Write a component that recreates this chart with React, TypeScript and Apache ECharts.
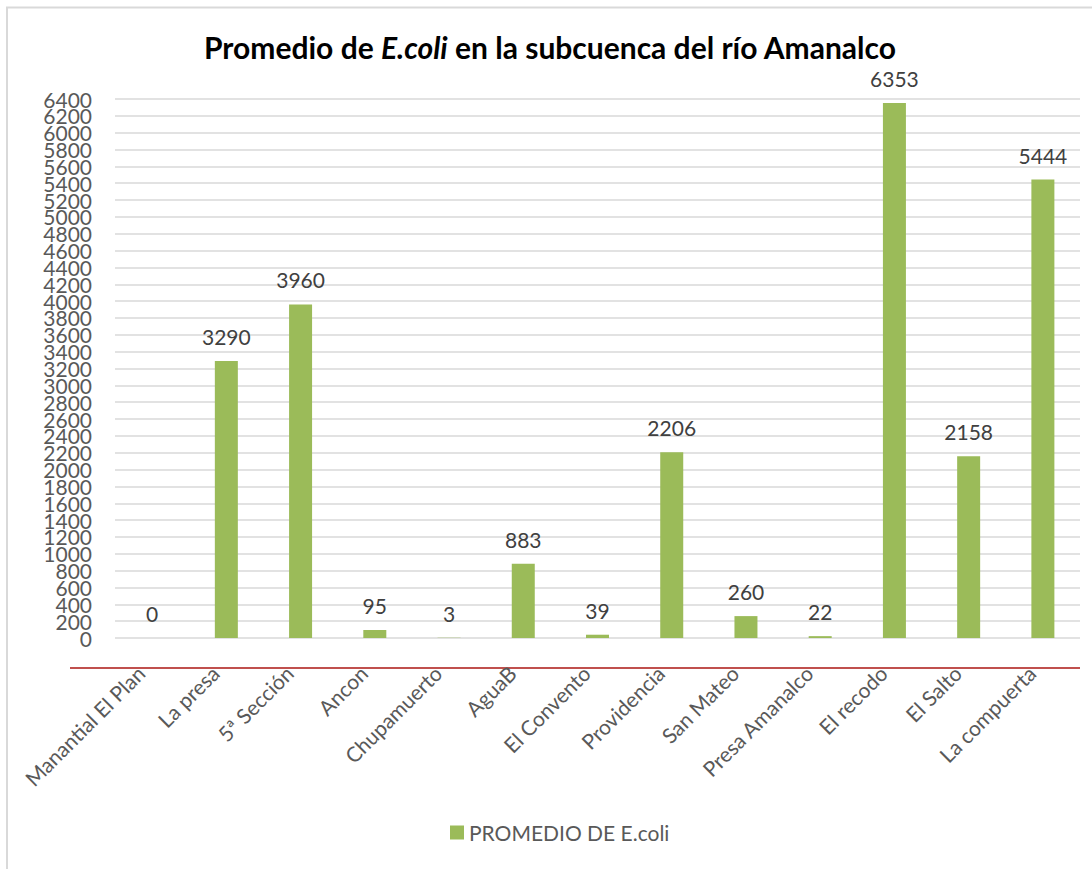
import React, { useEffect, useRef } from "react";
import * as echarts from "echarts";

const categories = [
  "Manantial El Plan",
  "La presa",
  "5ª Sección",
  "Ancon",
  "Chupamuerto",
  "AguaB",
  "El Convento",
  "Providencia",
  "San Mateo",
  "Presa Amanalco",
  "El recodo",
  "El Salto",
  "La compuerta",
];
const values = [0, 3290, 3960, 95, 3, 883, 39, 2206, 260, 22, 6353, 2158, 5444];
const seriesName = "PROMEDIO DE E.coli";
const yMin = 0;
const yMax = 6400;
const yInterval = 200;

const FONT = "Lato, 'Open Sans', sans-serif";

const yLabelStyle = {
  margin: 23,
  fontFamily: FONT,
  fontSize: 21,
  lineHeight: 14,
  color: "#595959",
  hideOverlap: false,
};

export default function App() {
  const ref = useRef<HTMLDivElement>(null);
  useEffect(() => {
    if (!ref.current) return;
    const chart = echarts.init(ref.current, null, { renderer: "svg" });
    chart.setOption({
      animation: false,
      backgroundColor: "#ffffff",
      title: {
        left: 204,
        top: 32,
        padding: 0,
        text: "{b|Promedio de }{i|E.coli}{b| en la subcuenca del río Amanalco}",
        textStyle: {
          rich: {
            b: { fontFamily: FONT, fontSize: 30, fontWeight: "bold", color: "#000000" },
            i: { fontFamily: FONT, fontSize: 30, fontWeight: "bold", fontStyle: "italic", color: "#000000" },
          },
        },
      },
      grid: { left: 115, right: 12, top: 99, bottom: 231, containLabel: false },
      legend: {
        left: 450,
        top: 822,
        padding: 0,
        icon: "rect",
        itemWidth: 14,
        itemHeight: 14,
        itemGap: 8,
        textStyle: { fontFamily: FONT, fontSize: 21, color: "#595959" },
        data: [seriesName],
      },
      xAxis: {
        type: "category",
        data: categories,
        offset: 30,
        axisLine: { show: false },
        axisTick: { show: false },
        axisLabel: {
          rotate: 45,
          interval: 0,
          margin: -10,
          padding: [0, 16, 0, 0],
          fontFamily: FONT,
          fontSize: 21,
          color: "#595959",
        },
      },
      yAxis: [
        {
          type: "value",
          min: yMin,
          max: yMax,
          interval: yInterval,
          axisLine: { show: false },
          axisTick: { show: false },
          splitLine: { lineStyle: { color: "#d9d9d9", width: 1.5 } },
          axisLabel: {
            ...yLabelStyle,
            showMinLabel: false,
            showMaxLabel: false,
            formatter: (v: number) => String(v),
          },
        },
        {
          type: "value",
          position: "left",
          offset: 0,
          min: yMin,
          max: yMax,
          interval: yInterval,
          axisLine: { show: false },
          axisTick: { show: false },
          splitLine: { show: false },
          axisLabel: {
            ...yLabelStyle,
            showMinLabel: true,
            showMaxLabel: true,
            formatter: (v: number) => (v === yMin || v === yMax ? String(v) : ""),
          },
        },
      ],
      series: [
        {
          name: seriesName,
          type: "bar",
          yAxisIndex: 0,
          data: values,
          barWidth: 23,
          itemStyle: { color: "#9BBB59" },
          label: {
            show: true,
            position: "top",
            distance: 14,
            fontFamily: FONT,
            fontSize: 21,
            color: "#404040",
          },
        },
      ],
      graphic: [
        {
          type: "line",
          shape: { x1: 70, y1: 668, x2: 1080, y2: 668 },
          style: { stroke: "#C0504D", lineWidth: 2 },
          silent: true,
        },
        {
          type: "line",
          shape: { x1: 6, y1: 7.5, x2: 1092, y2: 7.5 },
          style: { stroke: "#d9d9d9", lineWidth: 2 },
          silent: true,
        },
        {
          type: "line",
          shape: { x1: 7, y1: 7, x2: 7, y2: 869 },
          style: { stroke: "#d9d9d9", lineWidth: 2 },
          silent: true,
        },
      ],
    });
    return () => chart.dispose();
  }, []);
  return (
    <div
      ref={ref}
      style={{ position: "absolute", left: 0, top: 0, width: 1092, height: 869 }}
    />
  );
}
